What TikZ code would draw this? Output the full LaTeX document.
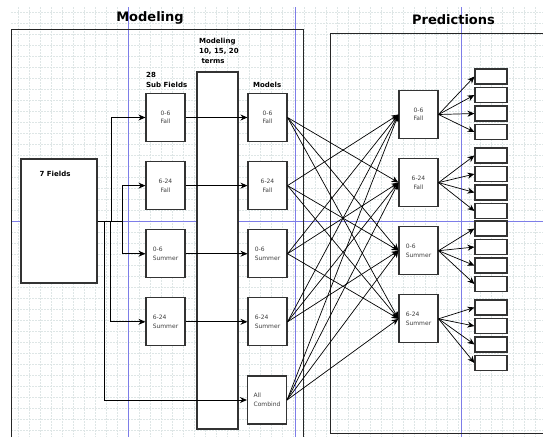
\documentclass[tikz,border=0pt]{standalone}
\usepackage{fontspec}
\setmainfont{DejaVu Sans}
\usetikzlibrary{positioning,arrows.meta}

\definecolor{guideblue}{RGB}{125,125,232}
\definecolor{meshgray}{RGB}{222,230,230}

\begin{document}
\begin{tikzpicture}[
  x=1pt, y=-1pt,
  font=\fontsize{6}{8.5}\selectfont,
  box/.style={draw=black!80, fill=white, line width=1.1pt, minimum width=39pt,
              minimum height=48pt, inner sep=0pt, align=center, text=black!75},
  outbox/.style={draw=black!80, fill=white, line width=1.1pt, minimum width=32pt,
                 minimum height=15pt, inner sep=0pt},
  tag/.style={font=\fontsize{7}{10}\selectfont\bfseries, align=left,
              anchor=north west, inner sep=0pt},
  title/.style={font=\fontsize{13}{16}\selectfont\bfseries, inner sep=0pt,
                anchor=base},
  frame/.style={draw=black!85, line width=1pt},
  mesh/.style={draw=meshgray, line width=0.4pt, dash pattern=on 1.5pt off 1.5pt},
  guide/.style={draw=guideblue, line width=0.9pt},
  flow/.style={-{Stealth[length=7pt, width=6pt]}, line width=0.9pt},
  cross/.style={-{Stealth[length=7pt, width=6pt]}, line width=0.7pt},
  node distance=19pt,
]
  \useasboundingbox (0,0) rectangle (543,437);

  % page grid and guides
  \foreach \gx in {18,29,...,540}
    \draw[mesh] (\gx,7) -- (\gx,437);
  \foreach \gy in {12,23,...,436}
    \draw[mesh] (11,\gy) -- (543,\gy);
  \draw[guide] (128,7) -- (128,437);
  \draw[guide] (295,7) -- (295,437);
  \draw[guide] (461,7) -- (461,437);
  \draw[guide] (11,221) -- (543,221);

  % the two panels
  \draw[frame] (11,437) -- (11,29) -- (303,29) -- (303,437);
  \draw[frame] (543,33) -- (330,33) -- (330,433) -- (543,433);
  \node[title] (modtitle) at (150,21) {Modeling};
  \node[title] (predtitle) at (453.5,24.5) {Predictions};

  % input
  \node[box, minimum width=76pt, minimum height=124pt] (fields) at (59,221) {};
  \node[tag] (fieldstag) at ([xshift=19pt,yshift=-13pt]fields.north west) {7 Fields};

  % sub fields
  \node[tag] (subtag) at (146,72.5) {28\\Sub Fields};
  \node[box] (sf1) at (165.5,117.5) {0-6\\Fall};
  \node[box, below=of sf1] (sf2) {6-24\\Fall};
  \node[box, below=of sf2, align=left] (sf3) {0-6\\Summer};
  \node[box, below=of sf3, align=left] (sf4) {6-24\\Summer};

  % modeling terms
  \node[box, minimum width=41pt, minimum height=357pt] (terms) at (217.5,250.5) {};
  \node[tag] (termstag) at (199,38) {Modeling\\10, 15, 20\\\ terms};

  % models
  \node[tag] (mdtag) at (253,82) {Models};
  \node[box] (md1) at (267.5,117.5) {0-6\\Fall};
  \node[box, below=of md1] (md2) {6-24\\Fall};
  \node[box, below=of md2, align=left] (md3) {0-6\\Summer};
  \node[box, below=of md3, align=left] (md4) {6-24\\Summer};
  \node[box, align=left] (mdall) at (267,400) {All\\Combind};

  % predictions
  \node[box] (pr1) at (418.5,114.5) {0-6\\Fall};
  \node[box, below=of pr1] (pr2) {6-24\\Fall};
  \node[box, below=of pr2, align=left] (pr3) {0-6\\Summer};
  \node[box, below=of pr3, align=left] (pr4) {6-24\\Summer};

  \foreach \g/\top in {1/69,2/148,3/221,4/300}
    \foreach \k in {1,...,4}
      \node[outbox] (out\g\k) at (491,\top+7.5+18.5*\k-18.5) {};

  % fields to sub fields
  \draw[flow] (fields.east) -- ++(14,0) |- (sf1.west);
  \draw[flow] (fields.east) -- ++(25,0) |- (sf2.west);
  \draw[flow] (fields.east) -- ++(25,0) |- (sf3.west);
  \draw[flow] (fields.east) -- ++(13,0) |- (sf4.west);
  \draw[flow] (fields.east) -- ++(7,0) |- (mdall.west);

  % sub fields to models
  \draw[flow] (sf1.east) -- (md1.west);
  \draw[flow] (sf2.east) -- (md2.west);
  \draw[flow] (sf3.east) -- (md3.west);
  \draw[flow] (sf4.east) -- (md4.west);

  % models to predictions
  \foreach \i in {1,...,4}
    \foreach \j in {1,...,4}
      {\ifnum\i=\j\else\draw[cross] (md\i.east) -- (pr\j.west);\fi}
  \foreach \j in {1,...,4}
    \draw[cross] (mdall.east) -- (pr\j.west);

  % predictions to outputs
  \foreach \g in {1,...,4}
    \foreach \k in {1,...,4}
      \draw[cross] (pr\g.east) -- (out\g\k.west);
\end{tikzpicture}
\end{document}
